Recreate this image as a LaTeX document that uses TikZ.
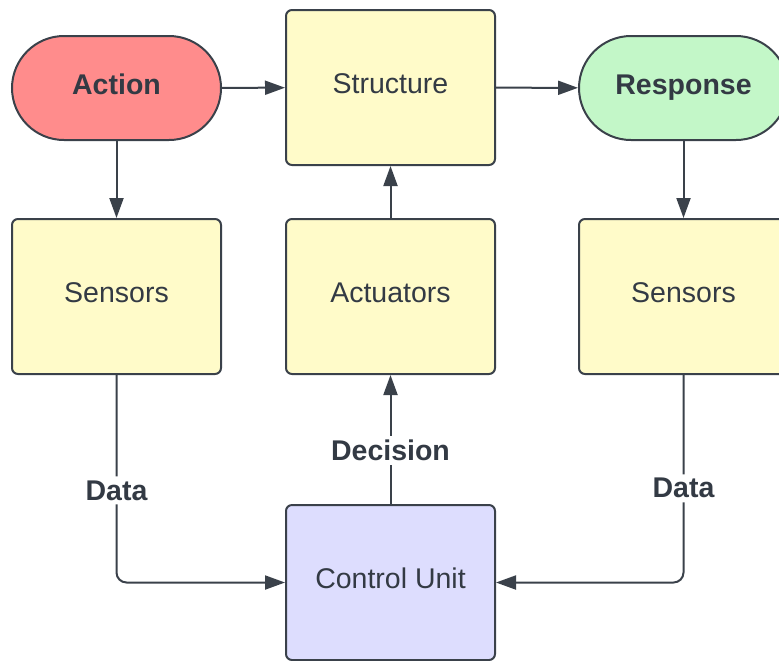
\documentclass[tikz,border=0pt]{standalone}
\usepackage{fontspec}
\setmainfont{Liberation Sans}
\usetikzlibrary{arrows.meta}
\definecolor{linegray}{HTML}{3A414A}
\definecolor{textgray}{HTML}{333A44}
\definecolor{actionred}{HTML}{FF8C8C}
\definecolor{responsegreen}{HTML}{C3F7C8}
\definecolor{boxyellow}{HTML}{FFFBC9}
\definecolor{unitblue}{HTML}{DDDDFE}
\begin{document}
\begin{tikzpicture}[x=0.5pt,y=-0.5pt,
    font=\fontsize{14.25}{17}\selectfont, text=textgray,
    block/.style={draw=linegray, line width=1pt, rounded corners=3pt,
                  minimum width=104.5pt, minimum height=77.5pt, fill=boxyellow,
                  text height=10.3pt, text depth=4pt},
    terminal/.style={draw=linegray, line width=1pt, rounded corners=26pt,
                  minimum width=104.5pt, minimum height=52pt,
                  text height=10.3pt, text depth=4pt,
                  font=\fontsize{14.25}{17}\selectfont\bfseries},
    flow/.style={draw=linegray, line width=1pt, -{Triangle[length=10pt,width=7pt]}},
    tag/.style={fill=white, inner sep=2pt, font=\fontsize{14.25}{17}\selectfont\bfseries}]
  \clip                (0,0) rectangle (779,660);

  \node[terminal, fill=actionred]     (action)   at (116.5,88)   {Action};
  \node[block]                        (struct)   at (390.5,87.5) {Structure};
  \node[terminal, fill=responsegreen] (response) at (683.5,88)   {Response};

  \node[block]                        (sensleft)  at (116.5,296.5) {Sensors};
  \node[block]                        (actuators) at (390.5,296.5) {Actuators};
  \node[block]                        (sensright) at (683.5,296.5) {Sensors};

  \node[block, fill=unitblue]         (control)   at (390.5,582.5) {Control Unit};

  \draw[flow]  (action)    -- (struct);
  \draw[flow]  (struct)    -- (response);
  \draw[flow]  (action)    -- (sensleft);
  \draw[flow]  (response)  -- (sensright);
  \draw[flow]  (actuators) -- (struct);

  \draw[flow]  (control)   -- node[tag, pos=0.415] {Decision} (actuators);
  \draw[flow, rounded corners=5pt]
               (sensleft)  |- node[tag, pos=0.278] {Data} (control);
  \draw[flow, rounded corners=5pt]
               (sensright) |- node[tag, pos=0.273] {Data} (control);
\end{tikzpicture}
\end{document}
